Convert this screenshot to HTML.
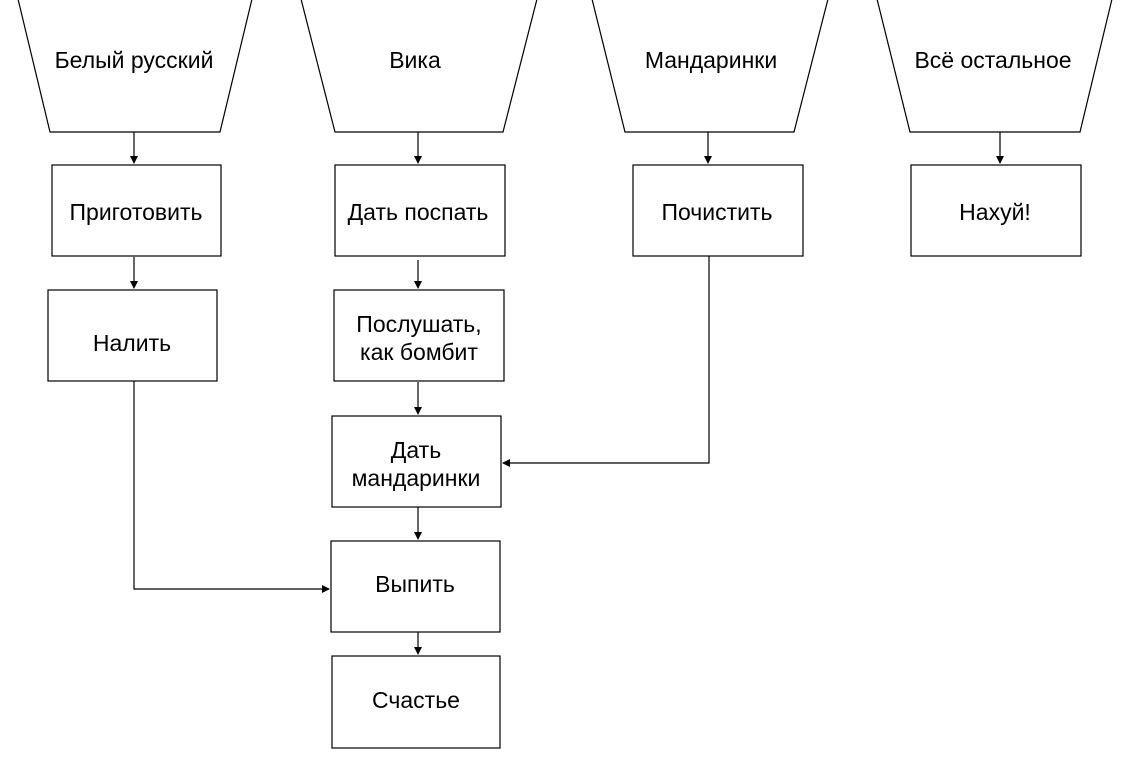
<!DOCTYPE html>
<html><head><meta charset="utf-8"><style>
html,body{margin:0;padding:0;background:#fff;width:1124px;height:758px;overflow:hidden}
svg text{font-family:"Liberation Sans",sans-serif;font-size:23px;fill:#000}
</style></head><body>
<svg width="1124" height="758" viewBox="0 0 1124 758" xmlns="http://www.w3.org/2000/svg">
<defs><marker id="a" markerWidth="8" markerHeight="8" refX="7" refY="4" orient="auto" markerUnits="userSpaceOnUse"><path d="M0,0 L8,4 L0,8 z" fill="#000"/></marker></defs>
<g fill="#fff" stroke="#000" stroke-width="1.2">
<polygon points="18,-1 252,-1 220,132 50,132"/>
<polygon points="301,-1 537,-1 503,132 335,132"/>
<polygon points="592,-1 828,-1 794,132 625,132"/>
<polygon points="877,-1 1112,-1 1080,132 910,132"/>
<rect x="52" y="165" width="169" height="91"/>
<rect x="335" y="165" width="170" height="91"/>
<rect x="633" y="165" width="170" height="91"/>
<rect x="911" y="165" width="170" height="91"/>
<rect x="48" y="290" width="169" height="91"/>
<rect x="334" y="290" width="170" height="91"/>
<rect x="332" y="416" width="169" height="91"/>
<rect x="331" y="541" width="169" height="91"/>
<rect x="332" y="656" width="168" height="92"/>
</g>
<g stroke="#000" stroke-width="1.2" fill="none" marker-end="url(#a)">
<line x1="134" y1="132" x2="134" y2="163"/>
<line x1="418" y1="132" x2="418" y2="163"/>
<line x1="708" y1="132" x2="708" y2="163"/>
<line x1="1000" y1="132" x2="1000" y2="163"/>
<line x1="134" y1="257" x2="134" y2="288"/>
<line x1="418" y1="260" x2="418" y2="288"/>
<line x1="418" y1="382" x2="418" y2="414"/>
<line x1="418" y1="507" x2="418" y2="539"/>
<line x1="418" y1="632" x2="418" y2="654"/>
<polyline points="134,381 134,589 329,589"/>
<polyline points="709,256 709,463 503,463"/>
</g>
<g text-anchor="middle">
<text x="134" y="68">Белый русский</text>
<text x="415" y="68">Вика</text>
<text x="711" y="68">Мандаринки</text>
<text x="993" y="68">Всё остальное</text>
<text x="136" y="220">Приготовить</text>
<text x="418" y="220">Дать поспать</text>
<text x="717" y="220">Почистить</text>
<text x="995" y="220">Нахуй!</text>
<text x="132" y="351">Налить</text>
<text x="419" y="332">Послушать,</text>
<text x="419" y="360">как бомбит</text>
<text x="416" y="458">Дать</text>
<text x="416" y="486">мандаринки</text>
<text x="415" y="592">Выпить</text>
<text x="416" y="708">Счастье</text>
</g>
</svg>
</body></html>
